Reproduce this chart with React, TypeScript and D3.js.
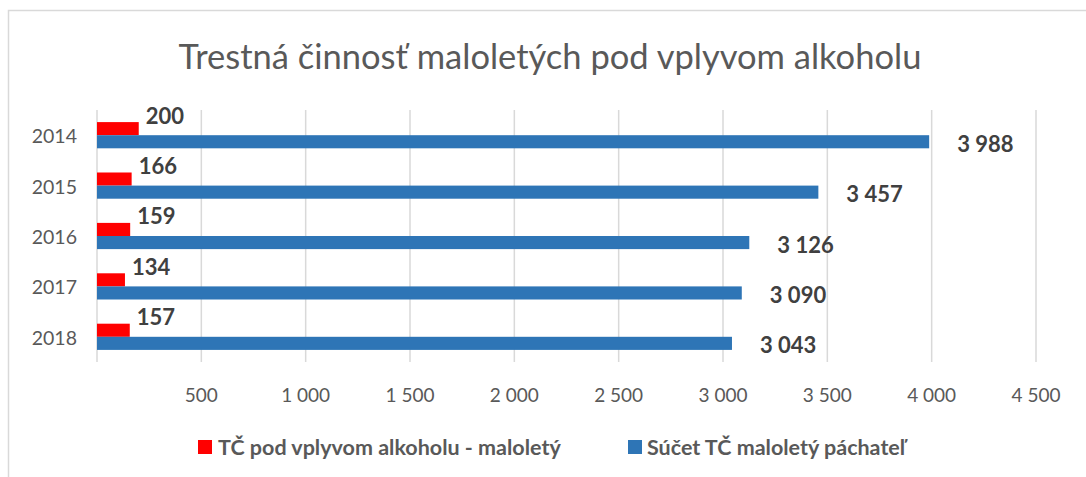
import React from 'react';
import * as d3 from 'd3';

const years = ['2014', '2015', '2016', '2017', '2018'];
const alcoholValues = [200, 166, 159, 134, 157];
const totalValues = [3988, 3457, 3126, 3090, 3043];
const tickValues = [0, 500, 1000, 1500, 2000, 2500, 3000, 3500, 4000, 4500];
const seriesNames = ['TČ pod vplyvom alkoholu - maloletý', 'Súčet TČ maloletý páchateľ'];
const seriesColors = ['#ff0000', '#2e75b6'];

const W = 1086;
const H = 477;
const FONT = 'Lato, "Open Sans", sans-serif';

// format like "3 988" (space as thousands separator)
const fmt = (v: number) => d3.format(',')(v).replace(/,/g, ' ');

const App = () => {
  const x = d3.scaleLinear().domain([0, 4500]).range([97, 1036]);
  const y = d3.scaleBand().domain(years).range([110, 362]).paddingInner(0.48).paddingOuter(0.24);
  const barH = y.bandwidth() / 2;

  return (
    <svg
      width={W}
      height={H}
      style={{ position: 'absolute', left: 0, top: 0, display: 'block', background: '#fff' }}
    >
      {/* chart border */}
      <rect x={8.5} y={10.5} width={W + 20} height={H + 20} fill="#fff" stroke="#d9d9d9" strokeWidth={1.5} />

      <text x={550} y={69} textAnchor="middle" fontFamily={FONT} fontSize={34.5} fill="#595959">
        Trestná činnosť maloletých pod vplyvom alkoholu
      </text>

      {/* gridlines */}
      {tickValues.map(t => (
        <line key={t} x1={x(t)} x2={x(t)} y1={110} y2={362} stroke="#d9d9d9" strokeWidth={1.5} />
      ))}

      {/* tick labels */}
      {tickValues.filter(t => t > 0).map(t => (
        <text key={t} x={x(t)} y={402} textAnchor="middle" fontFamily={FONT} fontSize={19} fill="#595959">
          {fmt(t)}
        </text>
      ))}

      {years.map((yr, i) => {
        const y0 = y(yr) as number;
        return (
          <g key={yr}>
            <text x={77} y={y0 + barH + 8} textAnchor="end" fontFamily={FONT} fontSize={19.5} fill="#595959">
              {yr}
            </text>
            <rect x={x(0)} y={y0} width={x(alcoholValues[i]) - x(0)} height={barH} fill={seriesColors[0]} />
            <rect x={x(0)} y={y0 + barH} width={x(totalValues[i]) - x(0)} height={barH} fill={seriesColors[1]} />
            <text
              x={x(alcoholValues[i]) + 7}
              y={y0 + barH / 2 - 13 + 8}
              fontFamily={FONT}
              fontWeight="bold"
              fontSize={22}
              fill="#404040"
            >
              {fmt(alcoholValues[i])}
            </text>
            <text
              x={x(totalValues[i]) + 28}
              y={y0 + barH * 1.5 + 2 + 8}
              fontFamily={FONT}
              fontWeight="bold"
              fontSize={22}
              fill="#404040"
            >
              {fmt(totalValues[i])}
            </text>
          </g>
        );
      })}

      {/* legend */}
      <rect x={198} y={440} width={14} height={14} fill={seriesColors[0]} />
      <text x={218} y={455} fontFamily={FONT} fontWeight="bold" fontSize={21.5} fill="#595959">
        {seriesNames[0]}
      </text>
      <rect x={628} y={440} width={14} height={14} fill={seriesColors[1]} />
      <text x={647} y={455} fontFamily={FONT} fontWeight="bold" fontSize={21.5} fill="#595959">
        {seriesNames[1]}
      </text>
    </svg>
  );
};

export default App;
